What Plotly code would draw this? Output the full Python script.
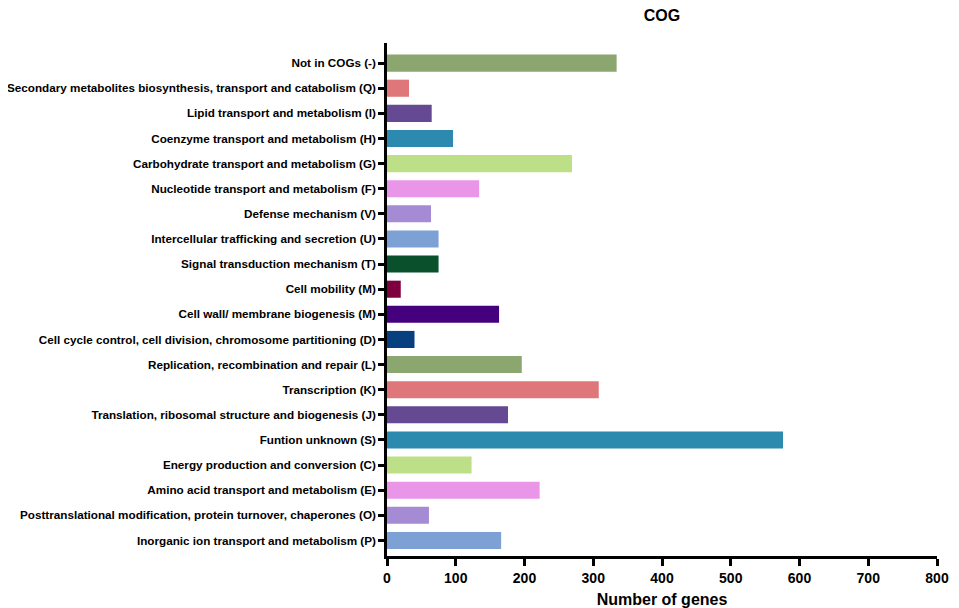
import plotly.graph_objects as go

categories = [
    "Not in COGs (-)",
    "Secondary metabolites biosynthesis, transport and catabolism (Q)",
    "Lipid transport and metabolism (I)",
    "Coenzyme transport and metabolism (H)",
    "Carbohydrate transport and metabolism (G)",
    "Nucleotide transport and metabolism (F)",
    "Defense mechanism (V)",
    "Intercellular trafficking and secretion (U)",
    "Signal transduction mechanism (T)",
    "Cell mobility (M)",
    "Cell wall/ membrane biogenesis (M)",
    "Cell cycle control, cell division, chromosome partitioning (D)",
    "Replication, recombination and repair (L)",
    "Transcription (K)",
    "Translation, ribosomal structure and biogenesis (J)",
    "Funtion unknown (S)",
    "Energy production and conversion (C)",
    "Amino acid transport and metabolism (E)",
    "Posttranslational modification, protein turnover, chaperones (O)",
    "Inorganic ion transport and metabolism (P)",
]
values = [334, 32, 65, 96, 269, 134, 64, 75, 75, 20, 163, 40, 196, 308, 176, 576, 123, 222, 61, 166]
colors = [
    "#8BA66F", "#DF7679", "#654A93", "#2D8AAF", "#BDDF87", "#E996E9", "#A58BD3",
    "#7DA0D5", "#0A502C", "#7F003F", "#44007D", "#073F7F", "#8BA66F", "#DF7679",
    "#654A93", "#2D8AAF", "#BDDF87", "#E996E9", "#A58BD3", "#7DA0D5",
]
x_ticks = [0, 100, 200, 300, 400, 500, 600, 700, 800]

font = "Liberation Sans, Arial, sans-serif"

fig = go.Figure(go.Bar(
    x=values, y=categories, orientation="h",
    marker=dict(color=colors, line=dict(width=0)),
    width=0.68,
))

fig.update_layout(
    width=951, height=600,
    margin=dict(l=379, r=22, t=35, b=52, autoexpand=False),
    plot_bgcolor="white", paper_bgcolor="white",
    showlegend=False,
    title=dict(text="<b>COG</b>", x=0.5, xref="paper", y=0.987, yanchor="middle",
               font=dict(family=font, size=16, color="black")),
    font=dict(family=font, color="black"),
)
fig.update_xaxes(
    range=[0, 800], tickvals=x_ticks, ticktext=[f"<b>{t}</b>" for t in x_ticks],
    showline=True, linecolor="black", linewidth=2.5,
    ticks="outside", ticklen=7, tickwidth=2.5, tickcolor="black",
    showgrid=False, zeroline=False, automargin=False,
    tickfont=dict(family=font, size=14, color="black"),
    title=dict(text="<b>Number of genes</b>", font=dict(family=font, size=16, color="black"), standoff=10),
)
fig.update_yaxes(
    type="category", categoryorder="array", categoryarray=categories,
    tickvals=categories, ticktext=[f"<b>{c}</b>" for c in categories],
    range=[len(categories) - 1 + 0.62, -0.8],
    showline=True, linecolor="black", linewidth=2.5,
    ticks="outside", ticklen=6, tickwidth=2.5, tickcolor="black",
    showgrid=False, zeroline=False, automargin=False,
    tickfont=dict(family=font, size=11.7, color="black"),
)

fig.write_html("out.html")
